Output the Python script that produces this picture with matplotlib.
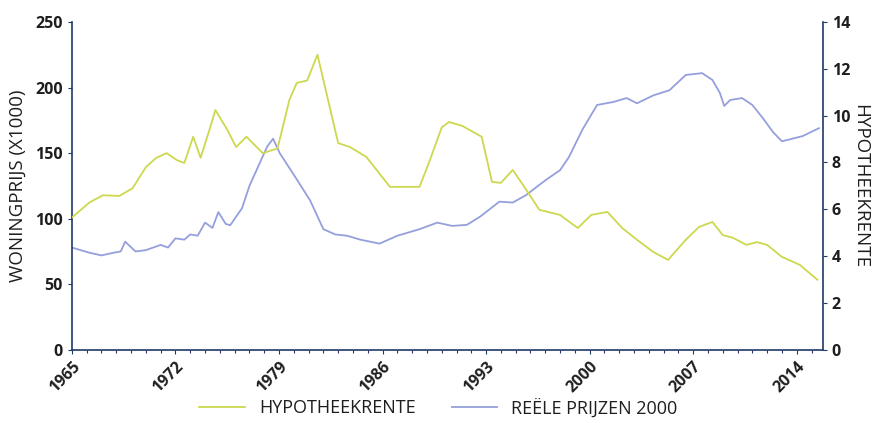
import matplotlib.pyplot as plt
from matplotlib.ticker import MultipleLocator

plt.rcParams['font.family'] = ['Open Sans', 'DejaVu Sans']

# reele prijzen 2000 (left axis, x1000)
price_years = [1965.0, 1966.2, 1967.0, 1967.8, 1968.3, 1968.6, 1969.3, 1970.0, 1971.0, 1971.5,
               1972.0, 1972.6, 1973.0, 1973.5, 1974.0, 1974.5, 1974.9, 1975.4, 1975.7, 1976.5,
               1977.0, 1977.6, 1978.2, 1978.6, 1979.05, 1980.2, 1981.1, 1982.0, 1982.8, 1983.6,
               1984.5, 1985.8, 1987.0, 1988.5, 1989.7, 1990.7, 1991.7, 1992.6, 1993.9, 1994.8,
               1995.7, 1996.6, 1997.1, 1998.0, 1998.6, 1999.5, 2000.5, 2001.6, 2002.5, 2003.2,
               2004.3, 2005.4, 2006.5, 2007.6, 2008.3, 2008.8, 2009.1, 2009.5, 2010.3, 2011.0,
               2011.7, 2012.4, 2013.0, 2013.7, 2014.4, 2015.5]
price = [78, 74, 72, 74, 75, 82.5, 75, 76, 80, 78,
         85, 84, 88, 87, 97, 93, 105, 96, 95, 108,
         125, 140, 155, 161, 150, 130, 114, 92, 88, 87,
         84, 81, 87, 92, 97, 94.5, 95.3, 101.6, 113, 112.3,
         118, 125.8, 130, 137, 147, 167.7, 186.7, 189, 192, 188,
         194, 198, 209.6, 211, 205.8, 196, 186, 190.5, 192, 186.7,
         176.8, 166, 159, 161, 163, 169]

# hypotheekrente (right axis, %)
rate_years = [1965.0, 1966.2, 1967.1, 1968.2, 1969.1, 1970.0, 1970.7, 1971.4, 1972.1, 1972.6,
              1973.2, 1973.7, 1974.3, 1974.7, 1975.5, 1976.1, 1976.8, 1977.9, 1978.9, 1979.7,
              1980.2, 1980.9, 1981.6, 1983.0, 1983.8, 1984.9, 1985.6, 1986.5, 1988.5, 1989.2,
              1990.0, 1990.5, 1991.4, 1992.7, 1993.4, 1994.0, 1994.8, 1995.5, 1996.6, 1998.0,
              1999.2, 2000.1, 2001.2, 2002.2, 2003.2, 2004.3, 2005.3, 2006.5, 2007.4, 2008.3,
              2009.0, 2009.7, 2010.6, 2011.3, 2012.0, 2013.0, 2014.2, 2015.4]
rate = [5.65, 6.3, 6.6, 6.57, 6.9, 7.8, 8.2, 8.4, 8.1, 7.98,
        9.1, 8.2, 9.4, 10.24, 9.4, 8.66, 9.1, 8.4, 8.6, 10.67,
        11.4, 11.5, 12.6, 8.83, 8.66, 8.24, 7.68, 6.96, 6.96, 8.1,
        9.5, 9.73, 9.56, 9.1, 7.17, 7.13, 7.68, 7.04, 5.98, 5.76,
        5.2, 5.76, 5.89, 5.2, 4.7, 4.18, 3.84, 4.7, 5.25, 5.46,
        4.9, 4.78, 4.48, 4.6, 4.48, 3.97, 3.63, 2.99]

xticks = [1965, 1972, 1979, 1986, 1993, 2000, 2007, 2014]

green = '#cdd84e'
blue = '#959fdc'
navy = '#1f3a68'
txt = '#1e1e1e'

fig = plt.figure(figsize=(8.77, 4.23), dpi=100)
ax = fig.add_axes([0.082, 0.173, 0.856, 0.775])
ax2 = ax.twinx()

ax.plot(price_years, price, color=blue, lw=1.3)
ax2.plot(rate_years, rate, color=green, lw=1.3)

ax.set_xlim(1965, 2015.75)
ax.set_ylim(0, 250)
ax2.set_ylim(0, 14)
ax.set_yticks([0, 50, 100, 150, 200, 250])
ax2.set_yticks([0, 2, 4, 6, 8, 10, 12, 14])
ax.set_xticks(xticks)
ax.xaxis.set_minor_locator(MultipleLocator(1))

for a in (ax, ax2):
    a.spines['top'].set_visible(False)
    for s in ('left', 'right', 'bottom'):
        a.spines[s].set_color(navy)
        a.spines[s].set_linewidth(1.2)
    a.tick_params(colors=navy, labelcolor=txt, labelsize=11.5, length=3, width=0.8)
ax.spines['right'].set_visible(False)
ax2.spines['left'].set_visible(False)
ax2.spines['bottom'].set_visible(False)
ax.tick_params(axis='x', which='minor', length=2, width=0.8, color=navy)

ax.set_xticklabels([str(y) for y in xticks], rotation=45, ha='right', rotation_mode='anchor')
for lab in ax.get_xticklabels() + ax.get_yticklabels() + ax2.get_yticklabels():
    lab.set_fontweight('bold')

ax.set_ylabel('WONINGPRIJS (X1000)', fontsize=13.5, color=txt, labelpad=6)
ax2.set_ylabel('HYPOTHEEKRENTE', fontsize=13.5, color=txt, rotation=-90, labelpad=14)

h1, = ax2.plot([], [], color=green, lw=1.3, label='HYPOTHEEKRENTE')
h2, = ax.plot([], [], color=blue, lw=1.3, label='REËLE PRIJZEN 2000')
fig.legend(handles=[h1, h2], loc='lower center', bbox_to_anchor=(0.5, -0.025), ncol=2,
           frameon=False, fontsize=13, handlelength=2.5, columnspacing=2.0,
           labelcolor=txt)

fig.savefig('out.png', dpi=100)
